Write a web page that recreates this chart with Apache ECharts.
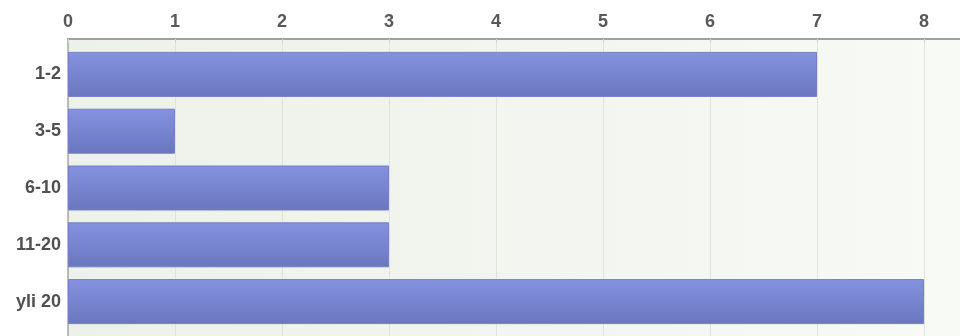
<!DOCTYPE html>
<html>
<head>
<meta charset="utf-8">
<script src="https://cdn.jsdelivr.net/npm/echarts@6/dist/echarts.min.js"></script>
<style>html,body{margin:0;padding:0;background:#fff}#c{width:960px;height:336px}</style>
</head>
<body>
<div id="c"></div>
<script>
var categories = ["1-2", "3-5", "6-10", "11-20", "yli 20"];
var values = [7, 1, 3, 3, 8];
var xMax = 8.336;
var tickInterval = 1;

var chart = echarts.init(document.getElementById('c'), null, {renderer: 'canvas'});
var fontFam = '"Liberation Sans", Arial, sans-serif';
chart.setOption({
  animation: false,
  grid: [
    {left: 68, right: 0, top: 39, bottom: 0, show: true, borderWidth: 0,
     backgroundColor: new echarts.graphic.LinearGradient(0, 0, 1, 0, [
       {offset: 0, color: '#ecf1e9'}, {offset: 1, color: '#f7faf5'}])},
    {left: 68, right: 0, top: 46, height: 284}
  ],
  xAxis: [
    {gridIndex: 0, type: 'value', position: 'top', min: 0, max: xMax, interval: tickInterval,
     axisLine: {show: true, onZero: false, lineStyle: {color: '#a0a0a0', width: 2}},
     axisTick: {show: true, inside: true, length: 4, lineStyle: {color: '#d0d4ce'}},
     axisLabel: {show: true, color: '#595959', fontSize: 18, fontWeight: 'bold', fontFamily: fontFam, margin: 8,
       showMaxLabel: false,
       formatter: function (v) { return Math.abs(v - Math.round(v)) < 1e-6 ? String(Math.round(v)) : ''; }},
     splitLine: {show: true, lineStyle: {color: '#dfe3dc', width: 1}}},
    {gridIndex: 1, type: 'value', min: 0, max: xMax, show: false}
  ],
  yAxis: [
    {gridIndex: 0, type: 'value', min: 0, max: 1,
     axisLine: {show: true, onZero: false, lineStyle: {color: '#a8a8a8', width: 1.5}},
     axisTick: {show: false}, axisLabel: {show: false}, splitLine: {show: false}},
    {gridIndex: 1, type: 'category', data: categories, inverse: true,
     axisLine: {show: false}, axisTick: {show: false},
     axisLabel: {color: '#505050', fontSize: 18, fontWeight: 'bold', fontFamily: fontFam, margin: 7}}
  ],
  series: [{
    type: 'bar', xAxisIndex: 1, yAxisIndex: 1, data: values, barWidth: 45,
    itemStyle: {
      color: new echarts.graphic.LinearGradient(0, 0, 0, 1, [
        {offset: 0, color: '#8592e0'}, {offset: 1, color: '#6a76bd'}]),
      borderColor: '#7480c6', borderWidth: 1
    }
  }]
});
</script>
</body>
</html>
